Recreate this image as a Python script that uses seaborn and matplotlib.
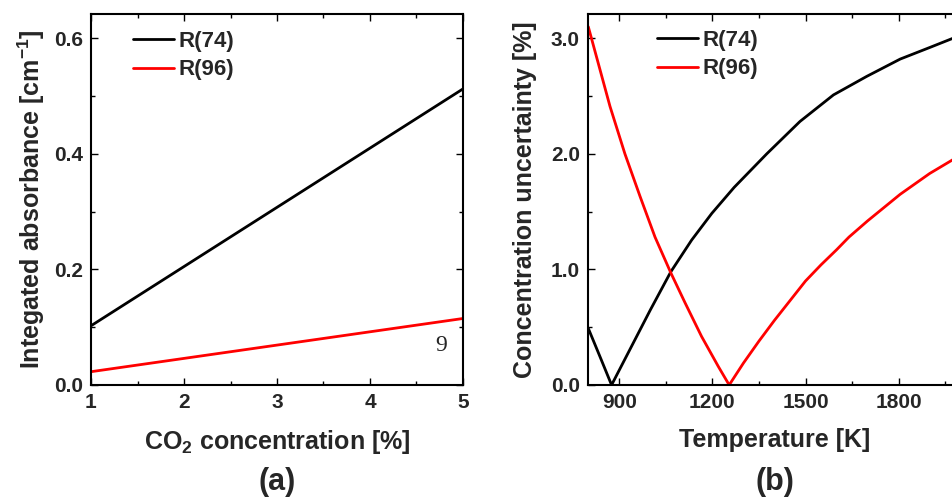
import numpy as np
import pandas as pd
import matplotlib
matplotlib.use("Agg")
import matplotlib.pyplot as plt
import seaborn as sns
from matplotlib.ticker import MultipleLocator, FormatStrFormatter

# ---------------- data ----------------
conc = [1, 2, 3, 4, 5]
abs_r74 = [0.1024, 0.2048, 0.3072, 0.4096, 0.512]
abs_r96 = [0.023, 0.046, 0.069, 0.092, 0.115]

temp_r74 = [800, 840, 875, 900, 950, 1000, 1066, 1133, 1198, 1270,
            1375, 1482, 1590, 1697, 1805, 1900, 1975, 2000]
unc_r74 = [0.49, 0.23, 0.0, 0.13, 0.39, 0.65, 0.98, 1.254, 1.485, 1.71,
           2.00, 2.28, 2.51, 2.67, 2.82, 2.92, 3.00, 3.03]

temp_r96 = [800, 870, 918, 967, 1015, 1066, 1112, 1165, 1219, 1254,
            1300, 1350, 1400, 1450, 1500, 1550, 1600, 1640, 1700, 1805, 1900, 1975, 2000]
unc_r96 = [3.10, 2.41, 2.00, 1.63, 1.28, 0.97, 0.71, 0.42, 0.16, 0.0,
           0.19, 0.38, 0.56, 0.73, 0.90, 1.04, 1.17, 1.28, 1.42, 1.65, 1.83, 1.95, 1.99]

series_names = ["R(74)", "R(96)"]
colors = {"R(74)": "black", "R(96)": "red"}

df_a = pd.DataFrame({
    "conc": conc + conc,
    "val": abs_r74 + abs_r96,
    "series": [series_names[0]] * len(conc) + [series_names[1]] * len(conc),
})
df_b = pd.DataFrame({
    "temp": temp_r74 + temp_r96,
    "val": unc_r74 + unc_r96,
    "series": [series_names[0]] * len(temp_r74) + [series_names[1]] * len(temp_r96),
})

# ---------------- style ----------------
sns.set_theme(style="ticks")
plt.rcParams["font.family"] = ["Liberation Sans", "DejaVu Sans"]
plt.rcParams["font.weight"] = "bold"
plt.rcParams["mathtext.fontset"] = "custom"
plt.rcParams["mathtext.bf"] = "Liberation Sans:bold"
plt.rcParams["mathtext.rm"] = "Liberation Sans:bold"
plt.rcParams["mathtext.default"] = "bf"

fig = plt.figure(figsize=(9.53, 4.97), dpi=100)
W, H = 953, 497

def px_axes(x0, y0, x1, y1):
    return fig.add_axes([x0 / W, 1 - y1 / H, (x1 - x0) / W, (y1 - y0) / H])

ax1 = px_axes(91, 14, 463, 385)
ax2 = px_axes(588.3, 14, 960.7, 385)

sns.lineplot(data=df_a, x="conc", y="val", hue="series", palette=colors,
             linewidth=2.0, ax=ax1, sort=False, estimator=None)
sns.lineplot(data=df_b, x="temp", y="val", hue="series", palette=colors,
             linewidth=2.0, ax=ax2, sort=False, estimator=None)

ax1.set_xlim(1, 5)
ax1.set_ylim(0, 0.6415)
ax1.xaxis.set_major_locator(MultipleLocator(1))
ax1.xaxis.set_minor_locator(MultipleLocator(0.5))
ax1.yaxis.set_major_locator(MultipleLocator(0.2))
ax1.yaxis.set_minor_locator(MultipleLocator(0.1))
ax1.yaxis.set_major_formatter(FormatStrFormatter("%.1f"))

ax2.set_xlim(800, 2000)
ax2.set_ylim(0, 3.21)
ax2.xaxis.set_major_locator(MultipleLocator(300))
ax2.xaxis.set_minor_locator(MultipleLocator(150))
ax2.yaxis.set_major_locator(MultipleLocator(1.0))
ax2.yaxis.set_minor_locator(MultipleLocator(0.5))
ax2.yaxis.set_major_formatter(FormatStrFormatter("%.1f"))

for ax in (ax1, ax2):
    for sp in ax.spines.values():
        sp.set_linewidth(1.5)
        sp.set_color("black")
    ax.tick_params(which="both", direction="in", top=True, right=True,
                   width=1.0, color="black")
    ax.tick_params(which="major", length=5, labelsize=15, pad=6)
    ax.tick_params(which="minor", length=3)
    for lab in ax.get_xticklabels() + ax.get_yticklabels():
        lab.set_fontweight("bold")

ax1.set_xlabel("CO$_2$ concentration [%]", fontsize=18, fontweight="bold", labelpad=11)
ax1.set_ylabel("Integated absorbance [cm$^{-1}$]", fontsize=18, fontweight="bold", labelpad=5)
ax2.set_xlabel("Temperature [K]", fontsize=18, fontweight="bold", labelpad=11)
ax2.set_ylabel("Concentration uncertainty [%]", fontsize=18, fontweight="bold", labelpad=10)

leg_kw = dict(frameon=False, handlelength=1.85, handletextpad=0.2,
              labelspacing=0.35, borderpad=0, borderaxespad=0, loc="upper left",
              prop={"weight": "bold", "size": 16})
ax1.legend(bbox_to_anchor=(0.113, 0.955), **leg_kw)
ax2.legend(bbox_to_anchor=(0.184, 0.958), **leg_kw)

ax1.text(4.76, 0.069, "9", family=["Liberation Serif", "DejaVu Serif"],
         fontweight="normal", fontsize=17, ha="center", va="center")

fig.text(277 / W, 1 - 482 / H, "(a)", fontsize=22, fontweight="bold",
         ha="center", va="center")
fig.text(775 / W, 1 - 482 / H, "(b)", fontsize=22, fontweight="bold",
         ha="center", va="center")

fig.savefig("out.png", dpi=100)
